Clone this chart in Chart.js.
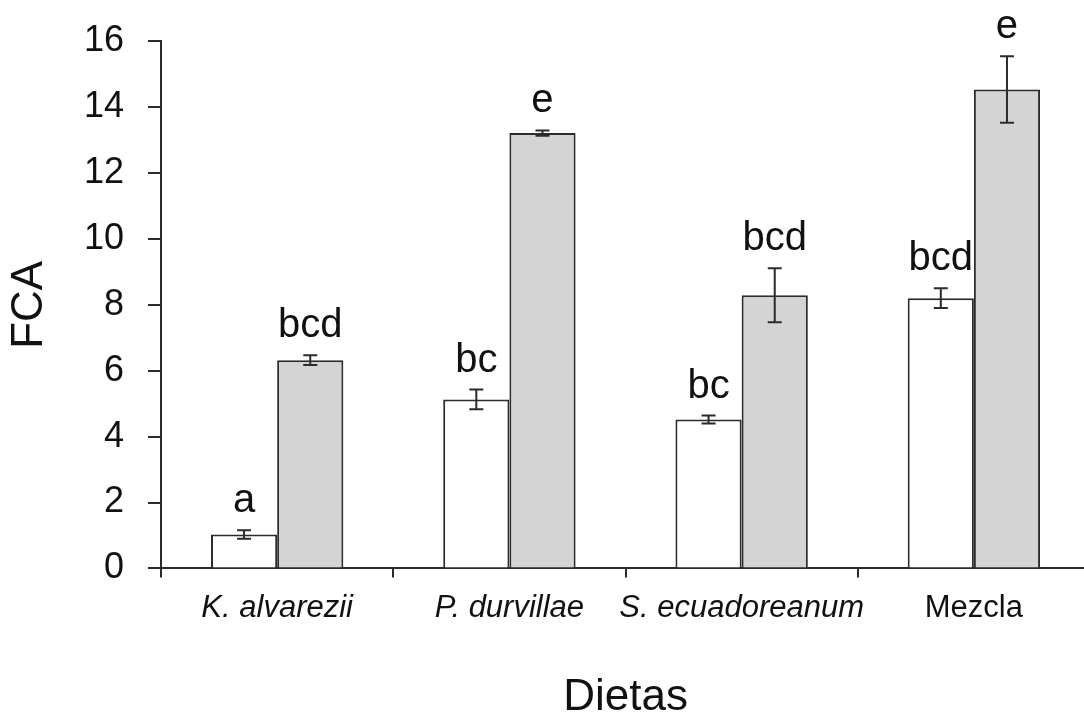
<!DOCTYPE html>
<html>
<head>
<meta charset="utf-8">
<script src="https://cdn.jsdelivr.net/npm/chart.js@4.4.1/dist/chart.umd.min.js"></script>
<style>
  html, body { margin: 0; padding: 0; background: #fff; overflow: hidden; }
  #wrap { width: 1094px; height: 715px; }
</style>
</head>
<body>
<div id="wrap"><canvas id="c" width="1094" height="715"></canvas></div>
<script>
// Diets on the x axis
const dietas = ['K. alvarezii', 'P. durvillae', 'S. ecuadoreanum', 'Mezcla'];

// White bars: FCA mean, standard error and significance letters
const fcaBlanco = [1.03, 5.13, 4.52, 8.20];
const errBlanco = [0.13, 0.30, 0.12, 0.30];
const letrasBlanco = ['a', 'bc', 'bc', 'bcd'];

// Grey bars: FCA mean, standard error and significance letters
const fcaGris = [6.32, 13.21, 8.29, 14.53];
const errGris = [0.15, 0.08, 0.82, 1.01];
const letrasGris = ['bcd', 'e', 'bcd', 'e'];

// Y axis range
const yMin = 0, yMax = 16, yStep = 2;

const FONT = "'Liberation Sans', Arial, sans-serif";
const INK = '#111';
const LINE = '#2b2b2b';

const errores = [errBlanco, errGris];
const letras = [letrasBlanco, letrasGris];

// Error bars and group letters drawn on top of the bars
const errorBars = {
  id: 'errorBars',
  afterDatasetsDraw(chart) {
    const ctx = chart.ctx;
    const y = chart.scales.y;
    chart.data.datasets.forEach((ds, d) => {
      const meta = chart.getDatasetMeta(d);
      meta.data.forEach((bar, i) => {
        const v = ds.data[i], e = errores[d][i];
        const yTop = y.getPixelForValue(v + e);
        const yBot = y.getPixelForValue(v - e);
        const cap = 7;
        ctx.save();
        ctx.strokeStyle = LINE;
        ctx.lineWidth = 2;
        ctx.beginPath();
        ctx.moveTo(bar.x, yTop); ctx.lineTo(bar.x, yBot);
        ctx.moveTo(bar.x - cap, yTop); ctx.lineTo(bar.x + cap, yTop);
        ctx.moveTo(bar.x - cap, yBot); ctx.lineTo(bar.x + cap, yBot);
        ctx.stroke();
        ctx.fillStyle = INK;
        ctx.font = '40px ' + FONT;
        ctx.textAlign = 'center';
        ctx.textBaseline = 'alphabetic';
        ctx.fillText(letras[d][i], bar.x, yTop - 18);
        ctx.restore();
      });
    });
  }
};

new Chart(document.getElementById('c'), {
  type: 'bar',
  data: {
    labels: dietas,
    datasets: [
      {
        label: 'Blanco',
        data: fcaBlanco,
        backgroundColor: '#ffffff',
        borderColor: LINE,
        borderWidth: 2,
        borderSkipped: 'bottom'
      },
      {
        label: 'Gris',
        data: fcaGris,
        backgroundColor: '#d4d4d4',
        borderColor: LINE,
        borderWidth: 2,
        borderSkipped: 'bottom'
      }
    ]
  },
  options: {
    responsive: false,
    animation: false,
    devicePixelRatio: 1,
    layout: { padding: { left: 8, right: 4, top: 0, bottom: 0 } },
    datasets: { bar: { barPercentage: 1.0, categoryPercentage: 0.57 } },
    plugins: {
      legend: { display: false },
      tooltip: { enabled: false }
    },
    scales: {
      x: {
        offset: true,
        grid: {
          offset: true,
          drawOnChartArea: false,
          drawTicks: true,
          tickLength: 9,
          color: LINE,
          lineWidth: 2
        },
        border: { display: true, color: LINE, width: 2 },
        ticks: {
          color: INK,
          padding: 12,
          autoSkip: false,
          maxRotation: 0,
          font: (c) => ({ family: FONT, size: 31, style: c.index < 3 ? 'italic' : 'normal' })
        },
        title: {
          display: true,
          text: 'Dietas',
          color: INK,
          font: { family: FONT, size: 44, lineHeight: 0.78 },
          padding: { top: 42, bottom: 0 }
        }
      },
      y: {
        min: yMin,
        max: yMax,
        grid: {
          drawOnChartArea: false,
          drawTicks: true,
          tickLength: 13,
          color: LINE,
          lineWidth: 2
        },
        border: { display: true, color: LINE, width: 2 },
        ticks: {
          stepSize: yStep,
          color: INK,
          padding: 24,
          font: { family: FONT, size: 36, lineHeight: 0.95 }
        },
        title: {
          display: true,
          text: 'FCA',
          color: INK,
          font: { family: FONT, size: 44, lineHeight: 1.0 },
          padding: { top: 0, bottom: 8 }
        }
      }
    }
  },
  plugins: [errorBars]
});
</script>
</body>
</html>
